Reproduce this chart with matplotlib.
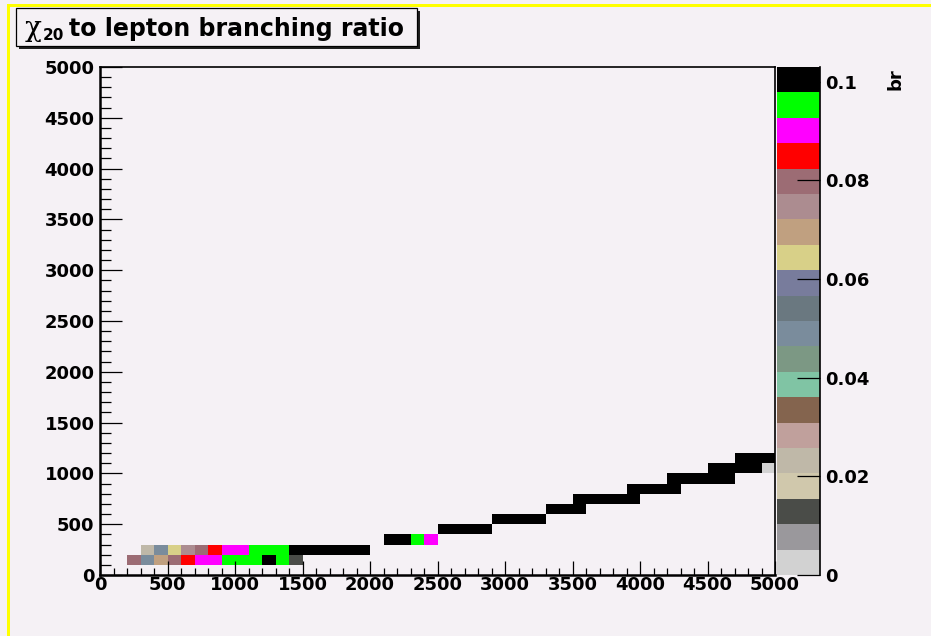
import numpy as np
import matplotlib
matplotlib.use("Agg")
import matplotlib.pyplot as plt
from matplotlib.colors import ListedColormap, BoundaryNorm
from matplotlib.patches import Rectangle
from matplotlib.lines import Line2D

plt.rcParams['font.family'] = ['DejaVu Sans']
plt.rcParams['font.weight'] = 'bold'

bg = '#f5f1f5'

# chi20 -> lepton branching ratio, one entry per filled 100x100 cell
# (lower-left corner of the cell, branching ratio)
row100_x = [200, 300, 400, 500, 600, 700, 800, 900, 1000, 1100, 1200, 1300, 1400]
row100_br = [0.079, 0.049, 0.070, 0.080, 0.085, 0.090, 0.091, 0.095, 0.096, 0.096, 0.101, 0.097, 0.013]

row200_x = [300, 400, 500, 600, 700, 800, 900, 1000, 1100, 1200, 1300,
            1400, 1500, 1600, 1700, 1800, 1900]
row200_br = [0.023, 0.048, 0.064, 0.075, 0.079, 0.085, 0.090, 0.091, 0.095, 0.096, 0.097,
             0.100, 0.101, 0.101, 0.100, 0.101, 0.100]

row300_x = [2100, 2200, 2300, 2400]
row300_br = [0.100, 0.101, 0.095, 0.090]

# upper rows are saturated (br >= 0.1) except the last cell of row 1000
diag_x = [2500, 2600, 2700, 2800,
          2900, 3000, 3100, 3200,
          3300, 3400, 3500,
          3500, 3600, 3700, 3800, 3900,
          3900, 4000, 4100, 4200,
          4200, 4300, 4400, 4500, 4600,
          4500, 4600, 4700, 4800, 4900,
          4700, 4800, 4900]
diag_y = [400, 400, 400, 400,
          500, 500, 500, 500,
          600, 600, 600,
          700, 700, 700, 700, 700,
          800, 800, 800, 800,
          900, 900, 900, 900, 900,
          1000, 1000, 1000, 1000, 1000,
          1100, 1100, 1100]
diag_br = [0.100, 0.101, 0.100, 0.101,
           0.100, 0.101, 0.100, 0.101,
           0.100, 0.101, 0.100,
           0.101, 0.100, 0.101, 0.100, 0.101,
           0.100, 0.101, 0.100, 0.101,
           0.100, 0.101, 0.100, 0.101, 0.100,
           0.101, 0.100, 0.101, 0.100, 0.002,
           0.100, 0.101, 0.100]

# ROOT-like palette, bottom to top
palette = ['#d2d2d2', '#9a989c', '#4a4c48', '#d0c8ac', '#bfb8a8',
           '#c0a09c', '#84644e', '#80c4a4', '#7c9884', '#7a8c9c',
           '#6a7880', '#787c9c', '#d8d088', '#c0a080', '#ac8c90',
           '#9c6c74', '#ff0000', '#ff00ff', '#00ff00', '#000000']
zmax = 0.103

cell_x = np.array(row100_x + row200_x + row300_x + diag_x, dtype=float)
cell_y = np.array([100] * len(row100_x) + [200] * len(row200_x)
                  + [300] * len(row300_x) + diag_y, dtype=float)
cell_br = np.array(row100_br + row200_br + row300_br + diag_br)

edges = np.arange(0, 5001, 100)
H, xe, ye = np.histogram2d(cell_x + 50, cell_y + 50, bins=[edges, edges], weights=cell_br)
H = np.ma.masked_equal(H.T, 0)

cmap = ListedColormap(palette)
norm = BoundaryNorm(np.linspace(0, zmax, len(palette) + 1), len(palette))

W, Hpx = 931, 636
fig = plt.figure(figsize=(W / 100, Hpx / 100), dpi=100, facecolor=bg)

ax = fig.add_axes([100 / W, 61 / Hpx, 675 / W, 508 / Hpx])
ax.set_facecolor(bg)
mesh = ax.pcolormesh(xe, ye, H, cmap=cmap, norm=norm)
ax.set_xlim(0, 5000)
ax.set_ylim(0, 5000)
ax.set_xticks(np.arange(0, 5001, 500))
ax.set_yticks(np.arange(0, 5001, 500))
ax.set_xticks(np.arange(0, 5001, 100), minor=True)
ax.set_yticks(np.arange(0, 5001, 100), minor=True)
ax.tick_params(which='both', direction='in', top=False, right=False,
               labelsize=13, width=0.9, color='black')
ax.tick_params(axis='x', which='major', length=10, pad=1)
ax.tick_params(axis='x', which='minor', length=5)
ax.tick_params(axis='y', which='major', length=15.5, pad=4)
ax.tick_params(axis='y', which='minor', length=8)
for s in ax.spines.values():
    s.set_linewidth(1.2)
ax.spines['left'].set_linewidth(1.8)
ax.spines['bottom'].set_linewidth(1.8)

# palette axis
cax = fig.add_axes([777 / W, 61 / Hpx, 43 / W, 508 / Hpx])
cb = fig.colorbar(mesh, cax=cax, ticks=[0, 0.02, 0.04, 0.06, 0.08, 0.1])
cb.ax.set_yticklabels(['0', '0.02', '0.04', '0.06', '0.08', '0.1'])
cb.outline.set_visible(False)
cax.minorticks_off()
cax.tick_params(direction='in', length=16.5, width=0.9, pad=3.6, labelsize=13)
cax.add_line(Line2D([1, 1], [0, 1], transform=cax.transAxes, color='black',
                    lw=1.2, clip_on=False))
fig.text(895 / W, 1 - 68 / Hpx, 'br', rotation=90, ha='center', va='top',
         fontsize=13, fontweight='bold')

# title box with shadow
box_l, box_t, box_r, box_b = 16, 8, 417, 46
fig.add_artist(Rectangle(((box_l + 3) / W, 1 - (box_b + 3) / Hpx),
                         (box_r - box_l) / W, (box_b - box_t) / Hpx,
                         transform=fig.transFigure, facecolor='#202020',
                         edgecolor='none'))
fig.add_artist(Rectangle((box_l / W, 1 - box_b / Hpx),
                         (box_r - box_l) / W, (box_b - box_t) / Hpx,
                         transform=fig.transFigure, facecolor=bg,
                         edgecolor='black', lw=0.9))
base = 1 - 36 / Hpx
fig.text(25 / W, base, '\u03c7', ha='left', va='baseline', fontsize=20,
         fontweight='normal', family=['DejaVu Serif'])
fig.text(43 / W, 1 - 40 / Hpx, '20', ha='left', va='baseline', fontsize=11,
         fontweight='bold')
fig.text(69 / W, base, 'to lepton branching ratio', ha='left', va='baseline',
         fontsize=17, fontweight='bold')

# canvas highlight border
fig.add_artist(Rectangle((7 / W, 0), 3 / W, 1 - 4 / Hpx, transform=fig.transFigure,
                         facecolor='#ffff00', edgecolor='none'))
fig.add_artist(Rectangle((7 / W, 1 - 7 / Hpx), 1 - 7 / W, 3 / Hpx, transform=fig.transFigure,
                         facecolor='#ffff00', edgecolor='none'))

fig.savefig('out.png', dpi=100, facecolor=bg)
